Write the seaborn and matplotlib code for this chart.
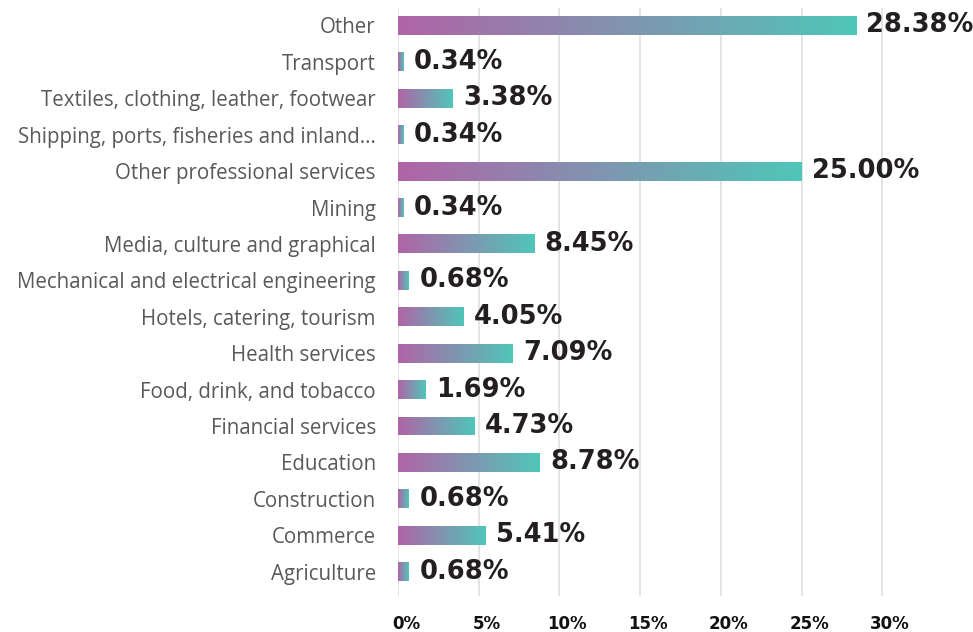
import numpy as np
import pandas as pd
import matplotlib
matplotlib.use("Agg")
import matplotlib.pyplot as plt
from matplotlib.colors import LinearSegmentedColormap
from matplotlib.transforms import offset_copy
import seaborn as sns

# Sector shares (%) of respondents, listed top to bottom
sectors = [
    "Other",
    "Transport",
    "Textiles, clothing, leather, footwear",
    "Shipping, ports, fisheries and inland...",
    "Other professional services",
    "Mining",
    "Media, culture and graphical",
    "Mechanical and electrical engineering",
    "Hotels, catering, tourism",
    "Health services",
    "Food, drink, and tobacco",
    "Financial services",
    "Education",
    "Construction",
    "Commerce",
    "Agriculture",
]
shares = [28.38, 0.34, 3.38, 0.34, 25.00, 0.34, 8.45, 0.68,
          4.05, 7.09, 1.69, 4.73, 8.78, 0.68, 5.41, 0.68]
x_ticks = [0, 5, 10, 15, 20, 25, 30]
x_tick_labels = ["0%", "5%", "10%", "15%", "20%", "25%", "30%"]

df = pd.DataFrame({"sector": sectors, "share": shares})

sns.set_theme(style="white")
plt.rcParams["font.family"] = ["Open Sans", "DejaVu Sans"]

fig = plt.figure(figsize=(9.73, 6.32), dpi=100)
ax = fig.add_axes([398 / 973, 1 - 596 / 632, 1 - 398 / 973, 588 / 632])

sns.barplot(data=df, x="share", y="sector", orient="h", width=0.52,
            color="#b064a6", ax=ax, zorder=2)

xlim = (0, (973 - 398) / 16.14)
ylim = (15.67, -0.48)

# Paint each bar with its own purple-to-teal gradient
cmap = LinearSegmentedColormap.from_list("purple_teal", ["#b064a6", "#4fc6b9"])
grad = np.linspace(0, 1, 256).reshape(1, -1)
for patch in ax.patches:
    x0, y0 = patch.get_x(), patch.get_y()
    w, h = patch.get_width(), patch.get_height()
    patch.set_facecolor("none")
    patch.set_edgecolor("none")
    im = ax.imshow(grad, cmap=cmap, aspect="auto", interpolation="bicubic",
                   extent=[x0, x0 + w, y0 + h, y0], zorder=2)
    im.set_clip_path(patch)

ax.set_xlim(*xlim)
ax.set_ylim(*ylim)

# Value labels
for cont in ax.containers:
    ax.bar_label(cont, labels=[f"{v:.2f}%" for v in shares], padding=7.5,
                 fontsize=18.5, fontweight="bold", color="#231f20",
                 family="DejaVu Sans")

# Vertical grid
ax.set_xticks(x_ticks)
ax.grid(axis="x", color="#e2e2e2", linewidth=1.3, zorder=0)
ax.grid(axis="y", visible=False)
ax.set_axisbelow(True)
for s in ax.spines.values():
    s.set_visible(False)

ax.set_xticklabels(x_tick_labels, fontsize=12, fontweight="bold",
                   color="#111111", family="DejaVu Sans")
ax.tick_params(axis="x", length=0, pad=14)
for lbl in ax.get_xticklabels():
    lbl.set_transform(offset_copy(lbl.get_transform(), fig=fig, x=8, y=0, units="dots"))

ax.tick_params(axis="y", length=0, pad=16)
for lbl in ax.get_yticklabels():
    lbl.set_fontsize(14.8)
    lbl.set_color("#595959")

ax.set_xlabel("")
ax.set_ylabel("")

fig.savefig("out.png", dpi=100)
